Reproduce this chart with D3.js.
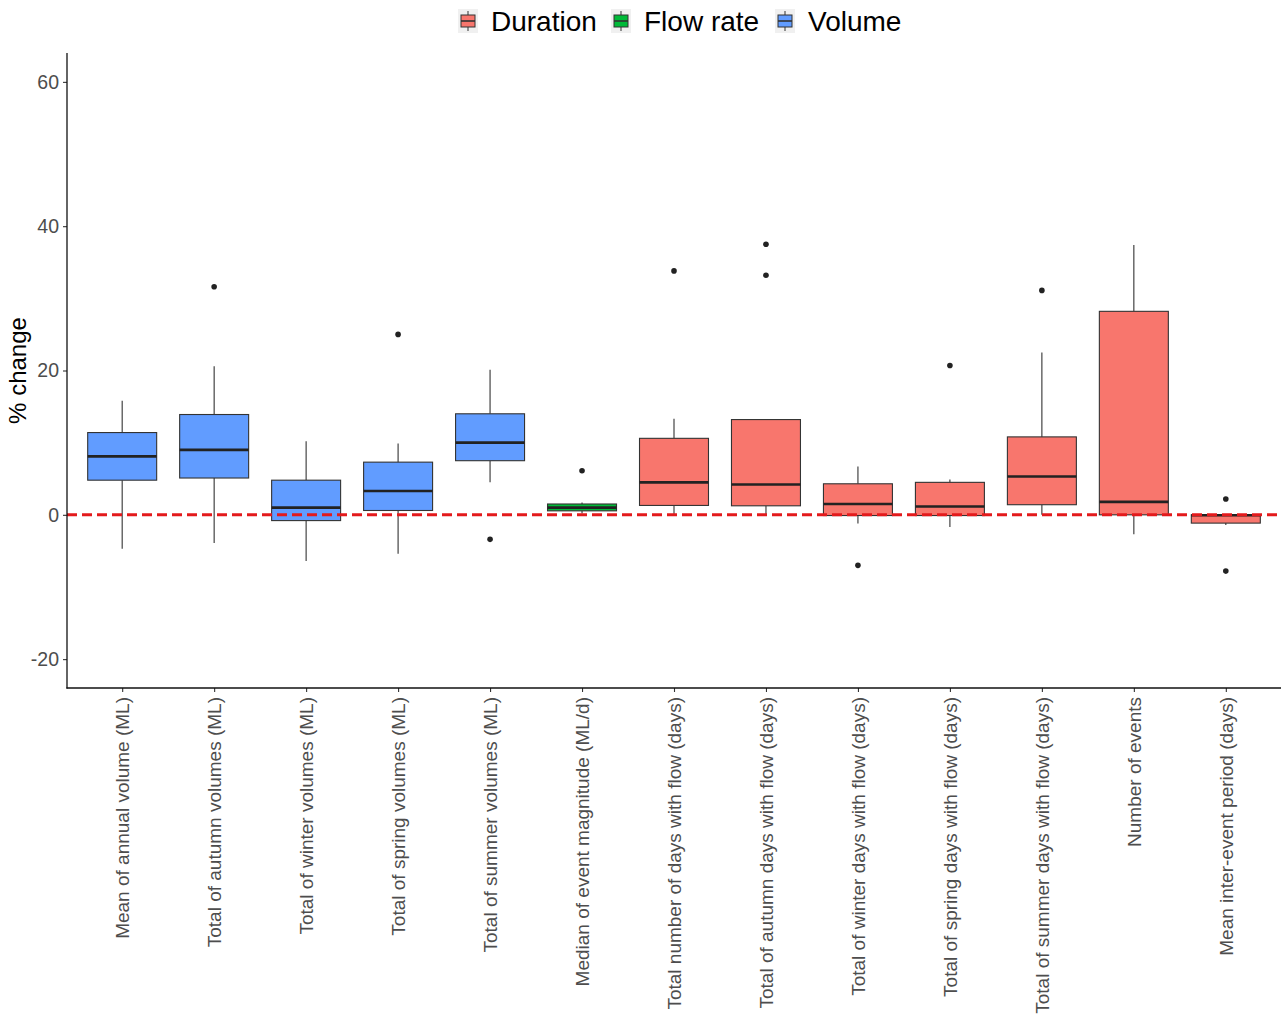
<!DOCTYPE html>
<html>
<head>
<meta charset="utf-8">
<script src="https://cdn.jsdelivr.net/npm/d3@7"></script>
<style>
  html, body { margin: 0; padding: 0; background: #fff; }
  svg { display: block; font-family: "Liberation Sans", Arial, sans-serif; }
</style>
</head>
<body>
<svg id="chart" width="1283" height="1016"></svg>
<script>
// ---- data ----
const categories = [
  "Mean of annual volume (ML)",
  "Total of autumn volumes (ML)",
  "Total of winter volumes (ML)",
  "Total of spring volumes (ML)",
  "Total of summer volumes (ML)",
  "Median of event magnitude (ML/d)",
  "Total number of days with flow (days)",
  "Total of autumn days with flow (days)",
  "Total of winter days with flow (days)",
  "Total of spring days with flow (days)",
  "Total of summer days with flow (days)",
  "Number of events",
  "Mean inter-event period (days)"
];
const groups = ["Volume","Volume","Volume","Volume","Volume","Flow rate",
  "Duration","Duration","Duration","Duration","Duration","Duration","Duration"];
const whiskerLow  = [-4.7, -3.9, -6.4, -5.4,  4.5, 0.2, 0.0, 0.0, -1.2, -1.7, 0.0, -2.7, -1.4];
const q1          = [ 4.8,  5.1, -0.8,  0.6,  7.5, 0.55, 1.3, 1.25, -0.1, -0.1, 1.4, 0.0, -1.15];
const medians     = [ 8.1,  9.0,  1.0,  3.3, 10.0, 1.0, 4.5, 4.2, 1.5, 1.15, 5.3, 1.8, -0.05];
const q3          = [11.4, 13.9,  4.8,  7.3, 14.0, 1.5, 10.6, 13.2, 4.3, 4.5, 10.8, 28.2, 0.0];
const whiskerHigh = [15.8, 20.6, 10.2,  9.9, 20.1, 1.7, 13.3, 13.2, 6.7, 4.9, 22.5, 37.4, 0.0];
const outliers    = [[], [31.6], [], [25.0], [-3.4], [6.1], [33.8], [37.5, 33.2], [-7.0], [20.7], [31.1], [], [2.2, -7.8]];
const legendGroups = ["Duration", "Flow rate", "Volume"];
const groupColors = ["#F8766D", "#00BA38", "#619CFF"];
const yTicks = [-20, 0, 20, 40, 60];
const yDomain = [-24, 64];
const refLine = 0;

// ---- layout ----
const svg = d3.select("#chart");
const mLeft = 67, mRight = 1281, mTop = 53, mBottom = 688;

const x = d3.scalePoint().domain(categories).range([mLeft, mRight]).padding(0.6);
const y = d3.scaleLinear().domain(yDomain).range([mBottom, mTop]);
const color = d3.scaleOrdinal().domain(legendGroups).range(groupColors);
const boxW = x.step() * 0.75;

const rows = categories.map((c, i) => ({
  cat: c, group: groups[i], lo: whiskerLow[i], q1: q1[i], med: medians[i],
  q3: q3[i], hi: whiskerHigh[i], out: outliers[i]
}));

const plot = svg.append("g");
const b = plot.selectAll("g.box").data(rows).join("g").attr("class", "box");

// whiskers
b.append("line")
  .attr("x1", d => x(d.cat)).attr("x2", d => x(d.cat))
  .attr("y1", d => y(d.hi)).attr("y2", d => y(d.q3))
  .attr("stroke", "#333").attr("stroke-width", 1.1);
b.append("line")
  .attr("x1", d => x(d.cat)).attr("x2", d => x(d.cat))
  .attr("y1", d => y(d.q1)).attr("y2", d => y(d.lo))
  .attr("stroke", "#333").attr("stroke-width", 1.1);
// box
b.append("rect")
  .attr("x", d => x(d.cat) - boxW / 2).attr("width", boxW)
  .attr("y", d => y(d.q3)).attr("height", d => Math.max(0.5, y(d.q1) - y(d.q3)))
  .attr("fill", d => color(d.group))
  .attr("stroke", "#333").attr("stroke-width", 1.1);
// median
b.append("line")
  .attr("x1", d => x(d.cat) - boxW / 2).attr("x2", d => x(d.cat) + boxW / 2)
  .attr("y1", d => y(d.med)).attr("y2", d => y(d.med))
  .attr("stroke", "#222").attr("stroke-width", 2.6);
// outliers
b.selectAll("circle").data(d => d.out.map(v => ({cat: d.cat, v})))
  .join("circle")
  .attr("cx", d => x(d.cat)).attr("cy", d => y(d.v)).attr("r", 2.8)
  .attr("fill", "#222");

// reference dashed line
plot.append("line")
  .attr("x1", mLeft).attr("x2", mRight)
  .attr("y1", y(refLine)).attr("y2", y(refLine))
  .attr("stroke", "#E31A1C").attr("stroke-width", 3)
  .attr("stroke-dasharray", "10,5");

// ---- axes ----
const yAxis = svg.append("g").attr("transform", `translate(${mLeft},0)`)
  .call(d3.axisLeft(y).tickValues(yTicks).tickFormat(d => String(d)).tickSize(4).tickPadding(4));
yAxis.select(".domain").remove();
yAxis.selectAll(".tick line").attr("stroke", "#333").attr("stroke-width", 1.1);
yAxis.selectAll(".tick text").attr("fill", "#4d4d4d").attr("font-size", 19.5);

const xAxis = svg.append("g").attr("transform", `translate(0,${mBottom})`)
  .call(d3.axisBottom(x).tickSize(4).tickPadding(6));
xAxis.select(".domain").remove();
xAxis.selectAll(".tick line").attr("stroke", "#333").attr("stroke-width", 1.1);
xAxis.selectAll(".tick text")
  .attr("fill", "#4d4d4d").attr("font-size", 19)
  .attr("transform", "rotate(-90)")
  .attr("text-anchor", "end")
  .attr("x", -9).attr("y", 0).attr("dy", "0.35em");

// axis lines
svg.append("line").attr("x1", mLeft).attr("x2", mLeft).attr("y1", mTop).attr("y2", mBottom + 0.6)
  .attr("stroke", "#111").attr("stroke-width", 1.3);
svg.append("line").attr("x1", mLeft - 0.6).attr("x2", mRight).attr("y1", mBottom).attr("y2", mBottom)
  .attr("stroke", "#111").attr("stroke-width", 1.3);

// y title
svg.append("text")
  .attr("transform", `translate(26,${(mTop + mBottom) / 2}) rotate(-90)`)
  .attr("text-anchor", "middle")
  .attr("font-size", 24).attr("fill", "#000")
  .text("% change");

// ---- legend ----
const legendX = [458, 611, 775];
const lg = svg.append("g").selectAll("g").data(legendGroups).join("g")
  .attr("transform", (d, i) => `translate(${legendX[i]},9)`);
lg.append("rect").attr("x", 0).attr("y", 0).attr("width", 20).attr("height", 24)
  .attr("fill", "#f0f0f0");
lg.append("line").attr("x1", 10).attr("x2", 10).attr("y1", 2).attr("y2", 22)
  .attr("stroke", "#333").attr("stroke-width", 1);
lg.append("rect").attr("x", 3).attr("y", 6).attr("width", 14).attr("height", 12)
  .attr("fill", d => color(d)).attr("stroke", "#333").attr("stroke-width", 1);
lg.append("line").attr("x1", 3).attr("x2", 17).attr("y1", 12).attr("y2", 12)
  .attr("stroke", "#333").attr("stroke-width", 1.6);
lg.append("text").attr("x", 33).attr("y", 12).attr("dy", "0.35em")
  .attr("font-size", 28).attr("fill", "#000")
  .text(d => d);
</script>
</body>
</html>
